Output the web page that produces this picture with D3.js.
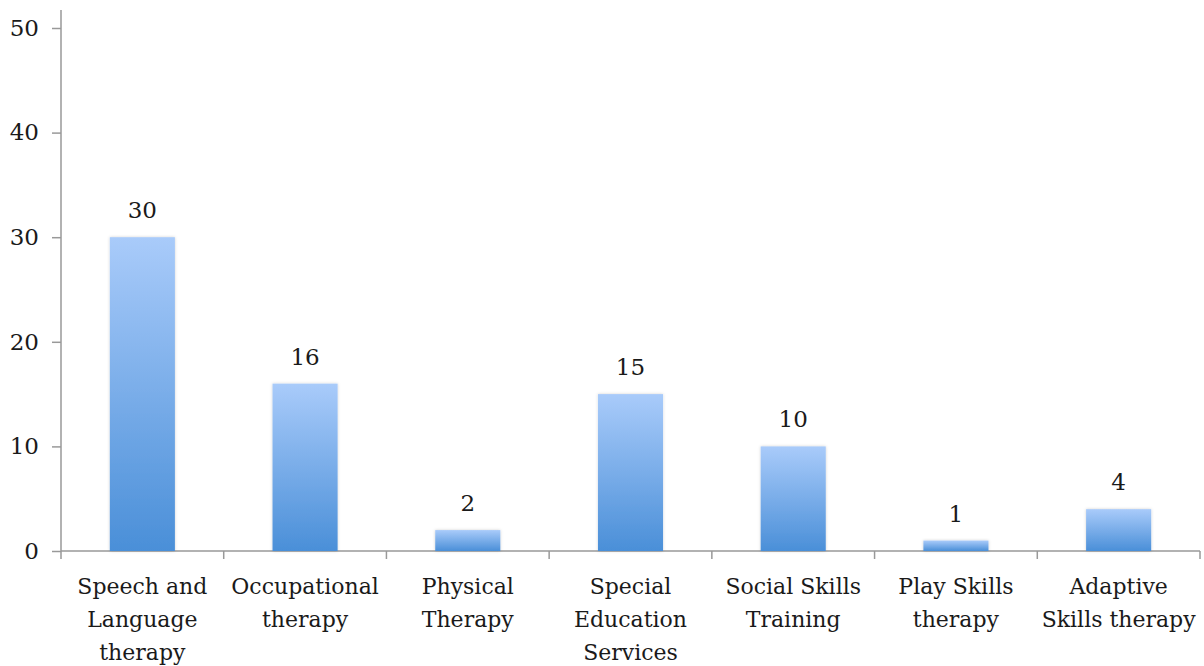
<!DOCTYPE html>
<html>
<head>
<meta charset="utf-8">
<script src="https://cdn.jsdelivr.net/npm/d3@7"></script>
<style>
  html, body { margin: 0; padding: 0; background: #fff; }
  svg text { font-family: "DejaVu Serif", "Liberation Serif", serif; fill: #1a1a1a; }
</style>
</head>
<body>
<svg id="chart" width="1204" height="666"></svg>
<script>
// Therapy services received (counts)
const categories = [
  ["Speech and", "Language", "therapy"],
  ["Occupational", "therapy"],
  ["Physical", "Therapy"],
  ["Special", "Education", "Services"],
  ["Social Skills", "Training"],
  ["Play Skills", "therapy"],
  ["Adaptive", "Skills therapy"]
];
const values = [30, 16, 2, 15, 10, 1, 4];
const yTicks = [0, 10, 20, 30, 40, 50];

const svg = d3.select("#chart");
const plotLeft = 61, plotRight = 1200, plotTop = 28, plotBottom = 551;

const x = d3.scaleBand()
  .domain(d3.range(categories.length))
  .range([plotLeft, plotRight])
  .paddingInner(0.6)
  .paddingOuter(0.3);

const xCat = d3.scaleBand()
  .domain(d3.range(categories.length))
  .range([plotLeft, plotRight]);

const y = d3.scaleLinear().domain([0, 50]).range([plotBottom, plotTop]);

// Bar fill gradient
const defs = svg.append("defs");
const grad = defs.append("linearGradient")
  .attr("id", "barFill").attr("x1", 0).attr("y1", 0).attr("x2", 0).attr("y2", 1);
grad.append("stop").attr("offset", "0%").attr("stop-color", "#a9cbfa");
grad.append("stop").attr("offset", "100%").attr("stop-color", "#4a8fd8");

const shadow = defs.append("filter").attr("id", "barShadow")
  .attr("x", "-20%").attr("y", "-20%").attr("width", "140%").attr("height", "140%");
shadow.append("feDropShadow")
  .attr("dx", 0).attr("dy", 0).attr("stdDeviation", 1.5)
  .attr("flood-color", "#000").attr("flood-opacity", 0.18);

// Y axis
const yAxis = d3.axisLeft(y).tickValues(yTicks).tickSize(9).tickPadding(13);
const gy = svg.append("g").attr("transform", `translate(${plotLeft},0)`).call(yAxis);
gy.select(".domain").remove();
gy.selectAll(".tick line").attr("stroke", "#999").attr("stroke-width", 1.5);
gy.selectAll(".tick text").attr("font-size", 23).attr("fill", "#1a1a1a")
  .style("font-family", "DejaVu Serif, Liberation Serif, serif");
svg.append("line")
  .attr("x1", plotLeft).attr("x2", plotLeft).attr("y1", 10).attr("y2", plotBottom)
  .attr("stroke", "#999").attr("stroke-width", 1.5);

// X axis line and category ticks
svg.append("line")
  .attr("x1", plotLeft).attr("x2", plotRight).attr("y1", plotBottom).attr("y2", plotBottom)
  .attr("stroke", "#999").attr("stroke-width", 1.5);
svg.append("g").selectAll("line")
  .data(d3.range(categories.length + 1))
  .join("line")
  .attr("x1", i => i < categories.length ? xCat(i) : plotRight)
  .attr("x2", i => i < categories.length ? xCat(i) : plotRight)
  .attr("y1", plotBottom).attr("y2", plotBottom + 8)
  .attr("stroke", "#999").attr("stroke-width", 1.5);

// Bars
svg.append("g").selectAll("rect")
  .data(values)
  .join("rect")
  .attr("x", (d, i) => x(i))
  .attr("width", x.bandwidth())
  .attr("y", d => y(d))
  .attr("height", d => plotBottom - y(d))
  .attr("fill", "url(#barFill)")
  .attr("filter", "url(#barShadow)");

// Value labels
svg.append("g").selectAll("text")
  .data(values)
  .join("text")
  .attr("x", (d, i) => x(i) + x.bandwidth() / 2)
  .attr("y", d => y(d) - 19)
  .attr("text-anchor", "middle")
  .attr("font-size", 23)
  .text(d => d);

// Category labels
const cat = svg.append("g").selectAll("text")
  .data(categories)
  .join("text")
  .attr("x", (d, i) => xCat(i) + xCat.bandwidth() / 2)
  .attr("y", 594)
  .attr("text-anchor", "middle")
  .attr("font-size", 22);
cat.selectAll("tspan")
  .data(d => d)
  .join("tspan")
  .attr("x", function () { return d3.select(this.parentNode).attr("x"); })
  .attr("dy", (d, i) => i === 0 ? 0 : 33)
  .text(d => d);
</script>
</body>
</html>
